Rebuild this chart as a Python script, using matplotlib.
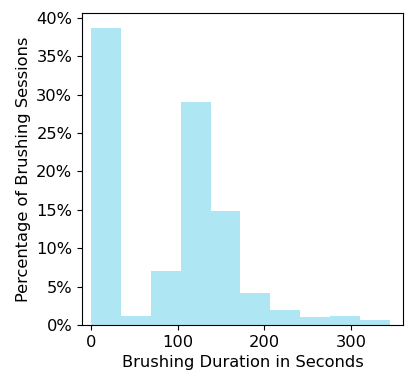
import matplotlib
matplotlib.use("Agg")
import matplotlib.pyplot as plt
from matplotlib.ticker import FuncFormatter

bin_edges = [0, 34.5, 69, 103.5, 138, 172.5, 207, 241.5, 276, 310.5, 345]
percentages = [38.7, 1.2, 7.0, 29.0, 14.9, 4.2, 1.95, 1.05, 1.13, 0.6]
xlabel = "Brushing Duration in Seconds"
ylabel = "Percentage of Brushing Sessions"

fig = plt.figure(figsize=(4.15, 3.87), dpi=100)
ax = fig.add_axes([0.1976, 0.160, 0.7734, 0.806])
centers = [(bin_edges[i] + bin_edges[i + 1]) / 2 for i in range(len(percentages))]
ax.hist(centers, bins=bin_edges, weights=percentages, color="#aee6f4", edgecolor="none")
ax.set_xlim(-10.4, 360)
ax.set_ylim(0, 40.6)
ax.set_yticks([0, 5, 10, 15, 20, 25, 30, 35, 40])
ax.set_xticks([0, 100, 200, 300])
ax.yaxis.set_major_formatter(FuncFormatter(lambda v, p: f"{v:.0f}%"))
ax.tick_params(labelsize=11.7)
ax.set_xlabel(xlabel, fontsize=11.7)
ax.set_ylabel(ylabel, fontsize=11.7)
fig.savefig("out.png", dpi=100)
